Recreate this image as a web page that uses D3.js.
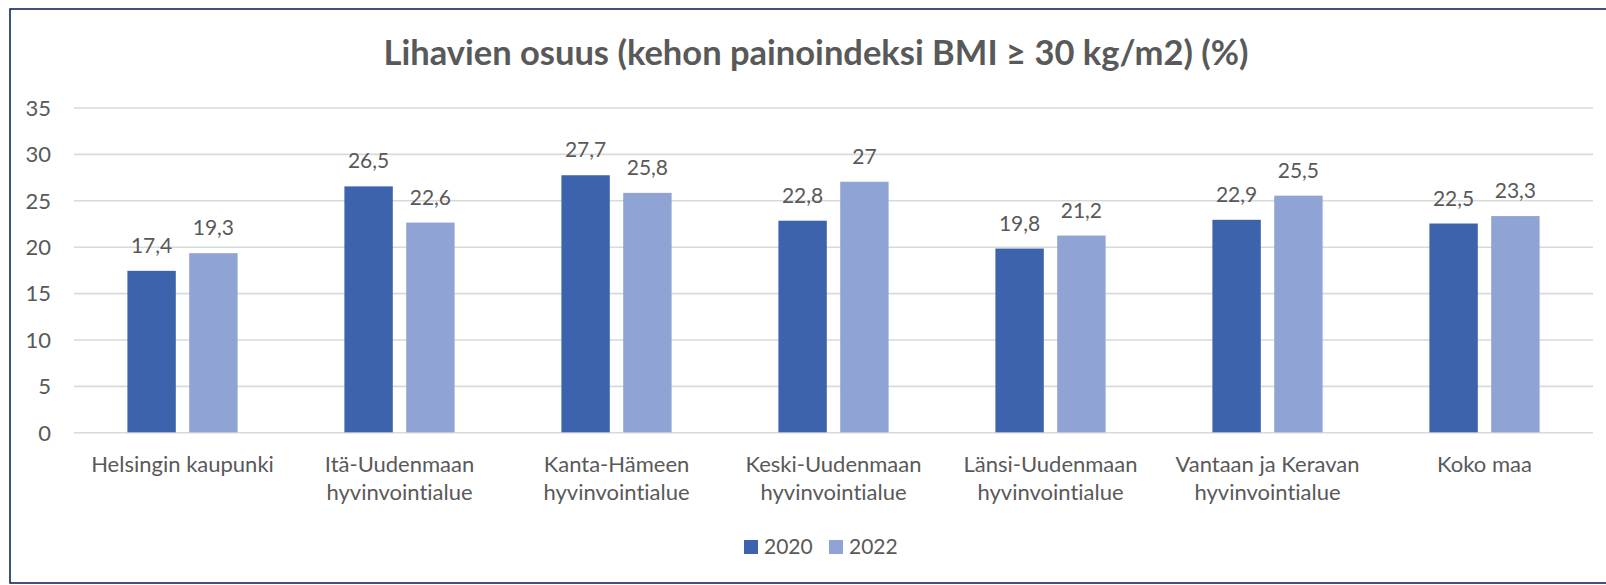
<!DOCTYPE html>
<html>
<head>
<meta charset="utf-8">
<script src="https://cdn.jsdelivr.net/npm/d3@7"></script>
<style>
  html, body { margin: 0; padding: 0; background: #ffffff; }
  svg { display: block; }
  text { font-family: Lato, "Open Sans", sans-serif; fill: #595959;
         font-variant-ligatures: none; font-feature-settings: "liga" 0, "dlig" 0; }
</style>
</head>
<body>
<svg id="chart" width="1606" height="585"></svg>
<script>
// Share of obese adults (BMI >= 30 kg/m2), %, by welfare area
const categories = [
  ["Helsingin kaupunki"],
  ["Itä-Uudenmaan", "hyvinvointialue"],
  ["Kanta-Hämeen", "hyvinvointialue"],
  ["Keski-Uudenmaan", "hyvinvointialue"],
  ["Länsi-Uudenmaan", "hyvinvointialue"],
  ["Vantaan ja Keravan", "hyvinvointialue"],
  ["Koko maa"]
];
const years = ["2020", "2022"];
const values2020 = [17.4, 26.5, 27.7, 22.8, 19.8, 22.9, 22.5];
const values2022 = [19.3, 22.6, 25.8, 27.0, 21.2, 25.5, 23.3];
const yTicks = [0, 5, 10, 15, 20, 25, 30, 35];
const colors = ["#3c63ac", "#8fa4d5"];
const title = "Lihavien osuus (kehon painoindeksi BMI ≥ 30 kg/m2) (%)";

const series = [values2020, values2022];
const catKeys = categories.map(c => c.join(" "));
const fmt = v => String(v).replace(".", ",");

const svg = d3.select("#chart");

// chart frame
svg.append("rect")
  .attr("x", 10).attr("y", 9)
  .attr("width", 1620).attr("height", 574)
  .attr("fill", "#ffffff")
  .attr("stroke", "#0f2a5a").attr("stroke-width", 1.6);

const x = d3.scaleBand().domain(catKeys).range([74, 1593]).paddingInner(0).paddingOuter(0);
const xs = d3.scaleBand().domain(years).range([0, x.bandwidth()]).paddingInner(0.217).paddingOuter(0.864);
const y = d3.scaleLinear().domain([0, 35]).range([432.3, 107.5]);

// title
svg.append("text")
  .attr("x", 816).attr("y", 65)
  .attr("text-anchor", "middle")
  .style("font-size", "34.5px").style("font-weight", "bold")
  .text(title);

// gridlines and y tick labels
const yAxis = d3.axisLeft(y).tickValues(yTicks).tickSize(-(1593 - 74)).tickPadding(23);
const gy = svg.append("g").attr("transform", "translate(74,0)").call(yAxis);
gy.select(".domain").remove();
gy.selectAll(".tick line").attr("stroke", "#d9d9d9").attr("stroke-width", 1.6);
gy.selectAll(".tick text")
  .style("font-size", "22px").style("font-family", "Lato, 'Open Sans', sans-serif")
  .attr("fill", "#595959").attr("dy", "0.35em");

// bars
const groups = svg.append("g").selectAll("g")
  .data(catKeys)
  .join("g")
  .attr("transform", d => `translate(${x(d)},0)`);

years.forEach((yr, si) => {
  groups.append("rect")
    .attr("x", xs(yr))
    .attr("width", xs.bandwidth())
    .attr("y", (d, i) => y(series[si][i]))
    .attr("height", (d, i) => y(0) - y(series[si][i]))
    .attr("fill", colors[si]);
  groups.append("text")
    .attr("x", xs(yr) + xs.bandwidth() / 2)
    .attr("y", (d, i) => y(series[si][i]) - 18)
    .attr("text-anchor", "middle")
    .style("font-size", "21px")
    .text((d, i) => fmt(series[si][i]));
});

// category labels
const xl = svg.append("g").selectAll("text")
  .data(categories)
  .join("text")
  .attr("x", (d, i) => x(catKeys[i]) + x.bandwidth() / 2)
  .attr("y", 472)
  .attr("text-anchor", "middle")
  .style("font-size", "22px");
xl.selectAll("tspan")
  .data(d => d)
  .join("tspan")
  .attr("x", function() { return this.parentNode.getAttribute("x"); })
  .attr("dy", (d, i) => i === 0 ? 0 : 27.5)
  .text(d => d);

// legend
const legendX = [744, 829];
const lg = svg.append("g").selectAll("g")
  .data(years)
  .join("g")
  .attr("transform", (d, i) => `translate(${legendX[i]},540)`);
lg.append("rect").attr("width", 14).attr("height", 14).attr("fill", (d, i) => colors[i]);
lg.append("text").attr("x", 20).attr("y", 13.5).style("font-size", "21px").text(d => d);
</script>
</body>
</html>
